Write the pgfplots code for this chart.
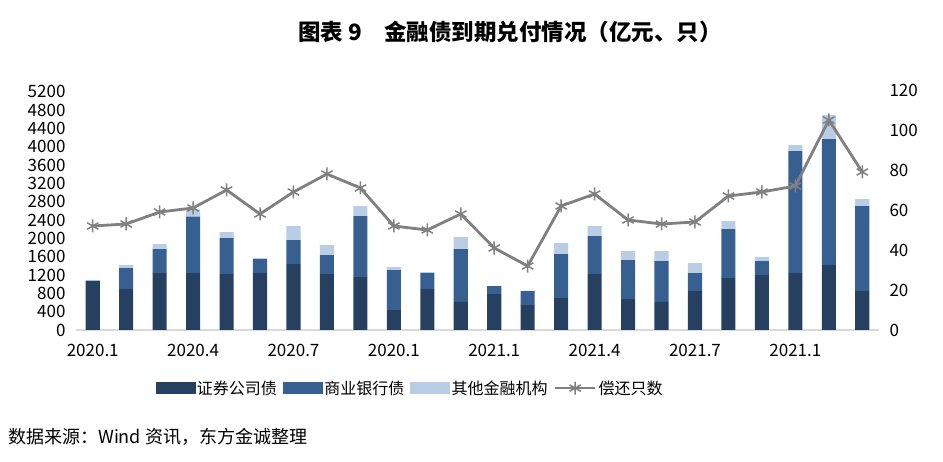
\documentclass[border=0pt]{standalone}
\usepackage{pgfplots}
\pgfplotsset{compat=1.18}
\usepackage{pgfplotstable}
\usepackage{fontspec}
\setmainfont{Noto Sans CJK SC}

\definecolor{secco}{RGB}{38,64,97}
\definecolor{bankco}{RGB}{54,96,146}
\definecolor{otherco}{RGB}{185,205,229}
\definecolor{lineco}{RGB}{128,128,128}
\definecolor{baseco}{RGB}{217,217,217}

\pgfplotsset{
  starlegend/.style={legend image code/.code={%
    \draw[mark repeat=2, mark phase=2, ##1] plot coordinates {(0pt,0pt) (20pt,0pt) (40pt,0pt)};}},
  boxlegend/.style={legend image code/.code={\fill[#1] (0pt,-5.5pt) rectangle (39pt,5.5pt);}},
}

% month index, securities, commercial banks, other institutions, number repaid
\pgfplotstableread{
x  sec   bank  other  cnt
0  1070  0     20     52
1  894   458   66     53
2  1243  524   109    59
3  1243  1229  160    61
4  1221  786   130    70
5  1243  306   21     58
6  1440  523   305    69
7  1221  415   218    78
8  1156  1330  218    71
9  436   873   65     52
10 894   349   22     50
11 611   1156  261    58
12 785   175   0      41
13 545   306   0      32
14 698   960   239    62
15 1221  829   218    68
16 676   851   196    55
17 611   894   218    53
18 851   392   218    54
19 1134  1069  174    67
20 1200  305   87     69
21 1243  2661  131    72
22 1418  2748  523    105
23 851   1853  153    79
}\data

\begin{document}
\begin{tikzpicture}
\path[use as bounding box] (0pt,0pt) rectangle (943pt,-462pt);
\pgfplotsset{
  common/.style={
    scale only axis, width=803pt, height=240pt,
    at={(76pt,-330pt)}, anchor=south west,
    xmin=-0.5, xmax=23.5,
    major tick length=0pt,
    ticklabel style={font=\fontsize{17}{17}\selectfont},
    /pgf/number format/assume math mode=true,
    /pgf/number format/1000 sep={},
  }
}
\begin{axis}[common,
  ybar stacked, bar width=0.42,
  ymin=0, ymax=5237,
  ytick={0,400,...,5200},
  xtick={0,3,...,21},
  xticklabels={2020.1,2020.4,2020.7,2020.1,2021.1,2021.4,2021.7,2021.1},
  xticklabel style={yshift=-11pt},
  yticklabel style={xshift=-7pt},
  axis x line*=bottom, axis y line*=left,
  x axis line style={-, draw=baseco, line width=2pt},
  y axis line style={-, draw=none},
]
\addplot[fill=secco, draw=none] table[x=x, y=sec] {\data};
\addplot[fill=bankco, draw=none] table[x=x, y=bank] {\data};
\addplot[fill=otherco, draw=none] table[x=x, y=other] {\data};
\end{axis}
\begin{axis}[common,
  ymin=0, ymax=120,
  ytick={0,20,...,120},
  xtick=\empty,
  axis x line=none, axis y line*=right,
  y axis line style={-, draw=none},
  yticklabel style={xshift=7pt},
  clip=false,
  legend columns=4,
  legend style={at={(0.416,-0.242)}, anchor=center, draw=none, fill=none,
    font=\fontsize{16}{16}\selectfont, inner sep=0pt,
    /tikz/every even column/.append style={column sep=4pt}},
]
\addlegendimage{boxlegend=secco}
\addlegendentry{证券公司债}
\addlegendimage{boxlegend=bankco}
\addlegendentry{商业银行债}
\addlegendimage{boxlegend=otherco}
\addlegendentry{其他金融机构}
\addplot[color=lineco, line width=2.8pt, mark=asterisk, mark size=6.5pt,
  mark options={line width=1.5pt}, starlegend]
  table[x=x, y=cnt] {\data};
\addlegendentry{偿还只数}
\end{axis}
\node[font=\fontsize{22.5}{22.5}\selectfont\bfseries] at (510pt,-32pt) {图表 9\quad 金融债到期兑付情况（亿元、只）};
\node[anchor=west, inner sep=0pt, font=\fontsize{18}{18}\selectfont] at (8pt,-437pt) {数据来源：Wind 资讯，东方金诚整理};
\end{tikzpicture}
\end{document}
